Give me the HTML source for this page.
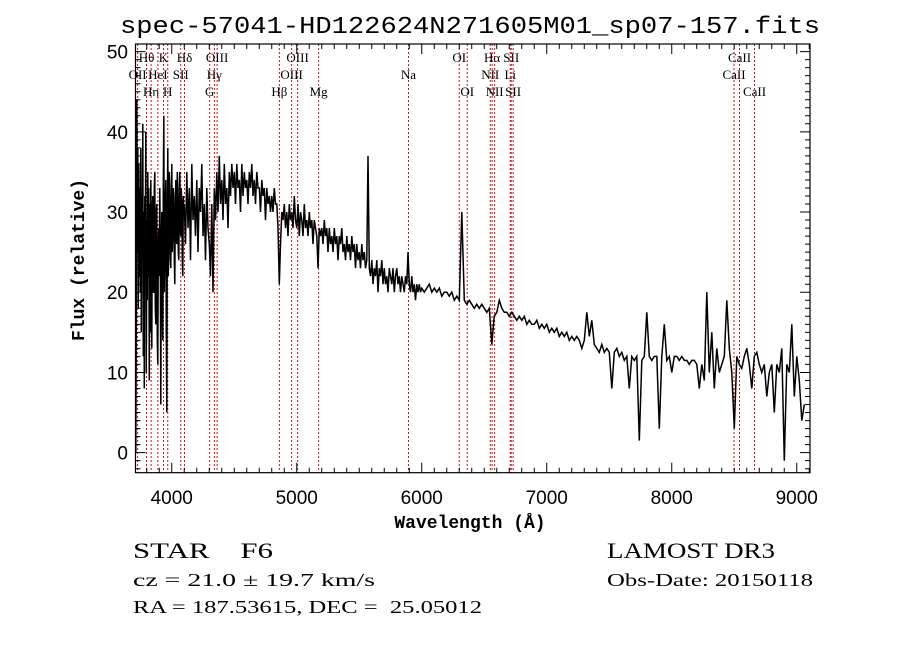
<!DOCTYPE html>
<html><head><meta charset="utf-8"><style>
html,body{margin:0;padding:0;background:#fff;width:900px;height:649px;overflow:hidden}
svg{display:block}
text{white-space:pre}
</style></head><body>
<svg id="chart" width="900" height="649" viewBox="0 0 900 649" xmlns="http://www.w3.org/2000/svg" xml:space="preserve">
<text x="470" y="33" text-anchor="middle" font-family="Liberation Mono, monospace" font-size="24" textLength="700" lengthAdjust="spacingAndGlyphs">spec-57041-HD122624N271605M01_sp07-157.fits</text>
<g id="lines"></g>
<g id="spec"></g>
<g id="axes"></g>
<text x="470" y="528" text-anchor="middle" font-family="Liberation Mono, monospace" font-weight="bold" font-size="18">Wavelength (Å)</text>
<text x="0" y="0" transform="translate(84,260) rotate(-90)" text-anchor="middle" font-family="Liberation Mono, monospace" font-weight="bold" font-size="18">Flux (relative)</text>
<text x="133" y="558" font-family="Liberation Serif, serif" font-size="22" textLength="140" lengthAdjust="spacingAndGlyphs">STAR    F6</text>
<text x="133" y="586" font-family="Liberation Serif, serif" font-size="18" textLength="242" lengthAdjust="spacingAndGlyphs">cz = 21.0 ± 19.7 km/s</text>
<text x="133" y="613" font-family="Liberation Serif, serif" font-size="18" textLength="349" lengthAdjust="spacingAndGlyphs">RA = 187.53615, DEC =  25.05012</text>
<text x="607" y="558" font-family="Liberation Serif, serif" font-size="22" textLength="168" lengthAdjust="spacingAndGlyphs">LAMOST DR3</text>
<text x="607" y="586" font-family="Liberation Serif, serif" font-size="18" textLength="206" lengthAdjust="spacingAndGlyphs">Obs-Date: 20150118</text>
</svg>
<script>
const blueWl = [3712,3716,3720,3724,3728,3732,3736,3740,3744,3748,3752,3756,3760,3764,3768,3772,3776,3780,3784,3788,3792,3796,3800,3804,3808,3812,3816,3820,3824,3828,3832,3836,3840,3844,3848,3852,3856,3860,3864,3868,3872,3876,3880,3884,3888,3892,3896,3900,3904,3908,3912,3916,3920,3924,3928,3932,3936,3940,3944,3948,3952,3956,3960,3964,3968,3972,3976,3980,3984,3988,3992,3996,4000,4004,4008,4012,4016,4020,4024,4028,4032,4036,4040,4044,4048,4052,4056,4060,4064,4068,4072,4076,4080,4084,4088,4092,4096];
const blueFlux = [0,16,44,25,38,18,36,22,33,20,38,15,32,27,41,12,30,8,32,24,40,10,29,19,35,22,33,9,31,15,34,27,13,30,32,20,20,33,35,18,16,30,31,14,11,26,28,22,33,25,6,24,30,19,14,33,42,20,25,31,34,15,5,30,38,22,26,35,33,24,23,31,36,25,28,33,32,24,21,30,34,27,26,35,33,25,24,31,35,28,27,33,31,24,22,32,30];
const redWl = [4100,4110,4120,4130,4140,4150,4160,4170,4180,4190,4200,4210,4220,4230,4240,4250,4260,4270,4280,4290,4300,4310,4320,4330,4340,4350,4360,4370,4380,4390,4400,4410,4420,4430,4440,4450,4460,4470,4480,4490,4500,4510,4520,4530,4540,4550,4560,4570,4580,4590,4600,4610,4620,4630,4640,4650,4660,4670,4680,4690,4700,4710,4720,4730,4740,4750,4760,4770,4780,4790,4800,4810,4820,4830,4840,4850,4860,4870,4880,4890,4900,4910,4920,4930,4940,4950,4960,4970,4980,4990,5000,5010,5020,5030,5040,5050,5060,5070,5080,5090,5100,5110,5120,5130,5140,5150,5160,5170,5180,5190,5200,5210,5220,5230,5240,5250,5260,5270,5280,5290,5300,5310,5320,5330,5340,5350,5360,5370,5380,5390,5400,5410,5420,5430,5440,5450,5460,5470,5480,5490,5500,5510,5520,5530,5540,5550,5560,5570,5580,5590,5600,5610,5620,5630,5640,5650,5660,5670,5680,5690,5700,5710,5720,5730,5740,5750,5760,5770,5780,5790,5800,5810,5820,5830,5840,5850,5860,5870,5880,5890,5900,5910,5920,5930,5940,5950,5960,5970,5980,5990,6000,
6020,6040,6060,6080,6100,6120,6140,6160,6180,6200,6220,6240,6260,6280,6300,6320,6340,6360,6380,6400,6420,6440,6460,6480,6500,6520,6540,6560,6580,6600,6620,6640,6660,6680,6700,6720,6740,6760,6780,6800,6820,6840,6860,6880,6900,6920,6940,6960,6980,7000,7020,7040,7060,7080,7100,7120,7140,7160,7180,7200,7220,7240,7260,7280,7300,7320,7340,7360,7380,7400,7420,7440,7460,7480,7500,7520,7540,7560,7580,7600,7620,7640,7660,7680,7700,7720,7740,7760,7780,7800,7820,7840,7860,7880,7900,7920,7940,7960,7980,8000,8020,8040,8060,8080,8100,8120,8140,8160,8180,8200,8220,8240,8260,8280,8300,8320,8340,8360,8380,8400,8420,8440,8460,8480,8500,8520,8540,8560,8580,8600,8620,8640,8660,8680,8700,8720,8740,8760,8780,8800,8820,8840,8860,8880,8900,8920,8940,8960,8980,9000,9020,9040,9060];
const redFlux = [31,26,35,28,33,24,36,29,32,27,
34,25,33,30,36,27,31,24,33,28,
26,22,31,20,33,29,35,30,37,31,
34,29,36,31,33,28,35,32,36,33,
35,31,36,33,34,30,36,32,35,33,
34,31,35,33,36,32,34,31,35,33,
33,30,34,32,33,29,33,31,32,30,
32,30,33,31,31,28,21,26,30,29,
31,28,30,27,31,29,30,28,32,29,
28,31,27,30,29,27,31,28,29,27,
30,28,29,26,29,28,27,23,28,27,
28,26,29,27,28,25,28,26,27,25,
28,26,27,24,27,26,28,25,26,24,
27,25,26,24,27,25,26,23,26,24,
25,23,26,24,25,23,24,37,23,22,
24,21,23,22,24,20,23,22,24,21,
23,21,22,20,23,22,21,23,20,22,
23,21,22,20,22,21,20,22,21,25,
21,20,22,20,21,19,21,20,21,20,
20.5,
20,20.5,21,20,20.5,
20,20.5,19.5,20,20,19.5,20,19,19.5,19,
30,19,18.5,19,18.5,18,18.5,18,18.5,18,
17.5,18,13.5,17,17.5,19,18,17.5,17.5,17,
17.5,17,16.5,17,16.5,17,16,16.5,16,16,
16.5,15.5,16,15.5,16,15,15.5,15,15.5,14.5,
15,14.5,15,14,14.5,14,14.5,14,13,14,
17.5,14.5,16.5,13.5,13,12.5,13.5,12.5,13,12.5,
8,12.5,13,12,12.5,11.5,12,8,12,11.5,
12,1.5,11.5,12,17.5,12,11.5,12,12,3,
12,16,11.5,12,10,12,12,11.5,12,11.5,
11.5,11,11.5,11.5,11,8,11,9,20,10,
15,8,13,10,11,12,19,13,10,3,
12,11,10.5,12,13,11,8,12,12.5,11,
10,11,7,10,11,5,11,10,13,-1,
11,10,16,7,12,9,4,6];
const lineWl = [3727,3798,3835,3889,3934,3968,4072,4102,4304,4341,4363,4861,4959,5007,5175,5894,6300,6364,6548,6563,6583,6708,6716,6731,8498,8542,8662];
const lineLabels = ["OII","Hθ","Hη","HeI","K","H","SII","Hδ","G","Hγ","OIII","Hβ","OIII","OIII","Mg","Na","OI","OI","NII","Hα","NII","Li","SII","SII","CaII","CaII","CaII"];
const lineRows = [1,0,2,1,0,2,1,0,2,1,0,2,1,0,2,1,0,2,1,0,2,1,0,2,1,0,2];
const xTicks = [4000,5000,6000,7000,8000,9000];
const yTicks = [0,10,20,30,40,50];

const X0=135.5, X1=810, Y0=44, Y1=472.7, WMIN=3710, WMAX=9106, FMIN=-2.5, FMAX=50.95;
const sx = w => X0 + (w-WMIN)/(WMAX-WMIN)*(X1-X0);
const sy = f => Y1 - (f-FMIN)/(FMAX-FMIN)*(Y1-Y0);
const NS="http://www.w3.org/2000/svg";
function mk(tag, attrs, parent){const e=document.createElementNS(NS,tag);for(const k in attrs)e.setAttribute(k,attrs[k]);parent.appendChild(e);return e;}

const gl=document.getElementById('lines');
lineWl.forEach((w,i)=>{
  const x=sx(w);
  const l=mk('line',{x1:x,x2:x,y1:Y0,y2:Y1,stroke:'#c01818','stroke-width':1,'stroke-dasharray':'2,2'},gl);
  
  
  const t=mk('text',{x:x,y:62+lineRows[i]*17,'text-anchor':'middle','font-family':'Liberation Serif, serif','font-size':13},gl);
  t.textContent=lineLabels[i];
  
  
});

const gs=document.getElementById('spec');
const allWl=blueWl.concat(redWl), allF=blueFlux.concat(redFlux);
const pts=allWl.map((w,i)=>sx(w).toFixed(1)+','+sy(allF[i]).toFixed(1)).join(' ');
const pl=mk('polyline',{points:pts,fill:'none',stroke:'#000','stroke-width':1.5,'stroke-linejoin':'miter'},gs);



const ga=document.getElementById('axes');
const fr=mk('rect',{x:X0,y:Y0,width:X1-X0,height:Y1-Y0,fill:'none',stroke:'#000','stroke-width':1.2},ga);


let d='';
for(let w=3800;w<=9100;w+=100){const x=sx(w);const L=(w%1000===0)?10:5;d+=`M${x},${Y1}v${-L}M${x},${Y0}v${L}`;}
for(let f=-2;f<=50;f+=1){const y=sy(f);const L=(f%10===0)?10:5;d+=`M${X0},${y}h${L}M${X1},${y}h${-L}`;}
const tk=mk('path',{d:d,stroke:'#000','stroke-width':1,fill:'none'},ga);


xTicks.forEach(v=>{const t=mk('text',{x:sx(v),y:504,'text-anchor':'middle','font-family':'Liberation Sans, sans-serif','font-size':19},ga);t.textContent=v;
  
  });
yTicks.forEach(v=>{const t=mk('text',{x:128,y:sy(v)+7,'text-anchor':'end','font-family':'Liberation Sans, sans-serif','font-size':19},ga);t.textContent=v;
  
  });
</script>
</body></html>
